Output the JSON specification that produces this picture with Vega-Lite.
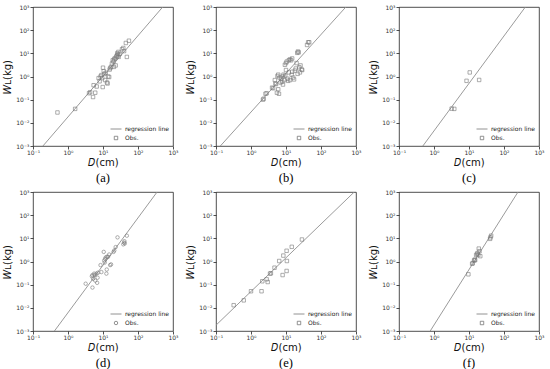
{
"$schema": "https://vega.github.io/schema/vega-lite/v6.json",
"padding": {"left": 2, "top": 3, "right": 2, "bottom": 0},
"background": "white",
"config": {
 "font": "DejaVu Sans",
 "view": {"stroke": "#222", "strokeWidth": 0.8},
 "axis": {"grid": false, "domain": false, "tickColor": "#222", "tickSize": 3, "tickWidth": 0.8, "labelFontSize": 6, "labelColor": "#333", "labelFont": "DejaVu Sans", "titleFont": "DejaVu Sans", "titleFontSize": 10, "titleFontWeight": "normal", "titleColor": "#111", "labelFlush": false, "labelOverlap": false},
 "axisX": {"labelPadding": 0, "titlePadding": 2},
 "axisY": {"labelPadding": 1, "titlePadding": 3},
 "legend": {"orient": "bottom-right", "labelFontSize": 6, "labelFont": "DejaVu Sans", "labelColor": "#222", "symbolStrokeWidth": 0.8, "rowPadding": 2, "offset": 3, "padding": 1, "labelOffset": 3},
 "title": {"font": "Liberation Serif", "fontSize": 12.5, "fontWeight": "normal", "orient": "bottom", "offset": 5, "color": "#000"}
},
"datasets": {
 "lines": [
  {"p":"a","D":0.192,"W":0.001},{"p":"a","D":508,"W":1000},
  {"p":"b","D":0.133,"W":0.001},{"p":"b","D":513,"W":1000},
  {"p":"c","D":0.48,"W":0.001},{"p":"c","D":407,"W":1000},
  {"p":"d","D":0.41,"W":0.001},{"p":"d","D":351,"W":1000},
  {"p":"e","D":0.1,"W":0.00178},{"p":"e","D":891,"W":1000},
  {"p":"f","D":0.78,"W":0.001},{"p":"f","D":251,"W":1000}
 ],
 "obs": [
  {"p":"a","s":"Obs.","D":0.5,"W":0.028},{"p":"a","s":"Obs.","D":1.6,"W":0.04},{"p":"a","s":"Obs.","D":4.0,"W":0.19},{"p":"a","s":"Obs.","D":4.3,"W":0.21},{"p":"a","s":"Obs.","D":5.2,"W":0.13},{"p":"a","s":"Obs.","D":5.4,"W":0.42},{"p":"a","s":"Obs.","D":6.0,"W":0.2},{"p":"a","s":"Obs.","D":6.6,"W":0.37},{"p":"a","s":"Obs.","D":7.5,"W":0.85},{"p":"a","s":"Obs.","D":8.0,"W":0.62},{"p":"a","s":"Obs.","D":8.5,"W":1.0},{"p":"a","s":"Obs.","D":9.0,"W":1.15},{"p":"a","s":"Obs.","D":9.5,"W":0.85},{"p":"a","s":"Obs.","D":9.8,"W":0.35},{"p":"a","s":"Obs.","D":10,"W":2.4},{"p":"a","s":"Obs.","D":10.5,"W":1.7},{"p":"a","s":"Obs.","D":11,"W":1.3},{"p":"a","s":"Obs.","D":11.5,"W":0.7},{"p":"a","s":"Obs.","D":12,"W":1.45},{"p":"a","s":"Obs.","D":13,"W":0.55},{"p":"a","s":"Obs.","D":13.5,"W":0.5},{"p":"a","s":"Obs.","D":14,"W":1.0},{"p":"a","s":"Obs.","D":15,"W":0.95},{"p":"a","s":"Obs.","D":15.5,"W":2.0},{"p":"a","s":"Obs.","D":16,"W":2.3},{"p":"a","s":"Obs.","D":17,"W":2.6},{"p":"a","s":"Obs.","D":18,"W":3.6},{"p":"a","s":"Obs.","D":19,"W":5.0},{"p":"a","s":"Obs.","D":20,"W":4.4},{"p":"a","s":"Obs.","D":20.5,"W":2.6},{"p":"a","s":"Obs.","D":21,"W":5.6},{"p":"a","s":"Obs.","D":22,"W":6.2},{"p":"a","s":"Obs.","D":23,"W":3.0},{"p":"a","s":"Obs.","D":24,"W":7.2},{"p":"a","s":"Obs.","D":25,"W":8.0},{"p":"a","s":"Obs.","D":25.5,"W":10},{"p":"a","s":"Obs.","D":27,"W":9},{"p":"a","s":"Obs.","D":27.5,"W":11.5},{"p":"a","s":"Obs.","D":28,"W":7},{"p":"a","s":"Obs.","D":30,"W":9.5},{"p":"a","s":"Obs.","D":35,"W":15},{"p":"a","s":"Obs.","D":38,"W":17},{"p":"a","s":"Obs.","D":40,"W":12.5},{"p":"a","s":"Obs.","D":45,"W":28},{"p":"a","s":"Obs.","D":48,"W":7},{"p":"a","s":"Obs.","D":55,"W":35},
  {"p":"b","s":"Obs.","D":2.2,"W":0.1},{"p":"b","s":"Obs.","D":2.3,"W":0.11},{"p":"b","s":"Obs.","D":2.6,"W":0.18},{"p":"b","s":"Obs.","D":2.8,"W":0.19},{"p":"b","s":"Obs.","D":4.0,"W":0.33},{"p":"b","s":"Obs.","D":4.3,"W":0.31},{"p":"b","s":"Obs.","D":4.8,"W":0.7},{"p":"b","s":"Obs.","D":5.0,"W":0.5},{"p":"b","s":"Obs.","D":5.2,"W":0.47},{"p":"b","s":"Obs.","D":5.5,"W":0.2},{"p":"b","s":"Obs.","D":5.7,"W":1.05},{"p":"b","s":"Obs.","D":6.0,"W":1.2},{"p":"b","s":"Obs.","D":6.0,"W":0.28},{"p":"b","s":"Obs.","D":6.3,"W":0.18},{"p":"b","s":"Obs.","D":6.5,"W":0.9},{"p":"b","s":"Obs.","D":7,"W":0.55},{"p":"b","s":"Obs.","D":7.3,"W":0.8},{"p":"b","s":"Obs.","D":7.8,"W":0.6},{"p":"b","s":"Obs.","D":8,"W":1.0},{"p":"b","s":"Obs.","D":8.2,"W":0.45},{"p":"b","s":"Obs.","D":8.5,"W":1.2},{"p":"b","s":"Obs.","D":9,"W":0.7},{"p":"b","s":"Obs.","D":9.3,"W":3.2},{"p":"b","s":"Obs.","D":9.5,"W":1.1},{"p":"b","s":"Obs.","D":10,"W":3.8},{"p":"b","s":"Obs.","D":10,"W":1.9},{"p":"b","s":"Obs.","D":10.5,"W":4.4},{"p":"b","s":"Obs.","D":11,"W":0.8},{"p":"b","s":"Obs.","D":11.5,"W":0.65},{"p":"b","s":"Obs.","D":12,"W":5},{"p":"b","s":"Obs.","D":12,"W":1.5},{"p":"b","s":"Obs.","D":13,"W":5.5},{"p":"b","s":"Obs.","D":13,"W":0.7},{"p":"b","s":"Obs.","D":14,"W":5},{"p":"b","s":"Obs.","D":14.5,"W":1.2},{"p":"b","s":"Obs.","D":15,"W":6},{"p":"b","s":"Obs.","D":15,"W":1.6},{"p":"b","s":"Obs.","D":16,"W":0.9},{"p":"b","s":"Obs.","D":17,"W":0.75},{"p":"b","s":"Obs.","D":18,"W":1.8},{"p":"b","s":"Obs.","D":19,"W":2.2},{"p":"b","s":"Obs.","D":20,"W":3.8},{"p":"b","s":"Obs.","D":21,"W":10.5},{"p":"b","s":"Obs.","D":21.5,"W":1.3},{"p":"b","s":"Obs.","D":22,"W":12},{"p":"b","s":"Obs.","D":23,"W":11},{"p":"b","s":"Obs.","D":24,"W":2.5},{"p":"b","s":"Obs.","D":25,"W":1.5},{"p":"b","s":"Obs.","D":26,"W":3},{"p":"b","s":"Obs.","D":28,"W":2},{"p":"b","s":"Obs.","D":29,"W":1.9},{"p":"b","s":"Obs.","D":40,"W":23},{"p":"b","s":"Obs.","D":43,"W":30},{"p":"b","s":"Obs.","D":46,"W":30},
  {"p":"c","s":"Obs.","D":3.2,"W":0.041},{"p":"c","s":"Obs.","D":3.8,"W":0.04},{"p":"c","s":"Obs.","D":8.5,"W":0.65},{"p":"c","s":"Obs.","D":10.5,"W":1.5},{"p":"c","s":"Obs.","D":19.5,"W":0.71},
  {"p":"d","s":"Obs.","D":3.2,"W":0.11},{"p":"d","s":"Obs.","D":5.0,"W":0.075},{"p":"d","s":"Obs.","D":4.8,"W":0.23},{"p":"d","s":"Obs.","D":5.0,"W":0.26},{"p":"d","s":"Obs.","D":5.2,"W":0.18},{"p":"d","s":"Obs.","D":5.6,"W":0.3},{"p":"d","s":"Obs.","D":5.8,"W":0.26},{"p":"d","s":"Obs.","D":6.0,"W":0.15},{"p":"d","s":"Obs.","D":6.5,"W":0.3},{"p":"d","s":"Obs.","D":7,"W":0.2},{"p":"d","s":"Obs.","D":6.8,"W":0.12},{"p":"d","s":"Obs.","D":7.2,"W":0.33},{"p":"d","s":"Obs.","D":8.5,"W":0.7},{"p":"d","s":"Obs.","D":9.0,"W":0.35},{"p":"d","s":"Obs.","D":10.5,"W":2.6},{"p":"d","s":"Obs.","D":10.8,"W":1.1},{"p":"d","s":"Obs.","D":11.2,"W":0.9},{"p":"d","s":"Obs.","D":11.5,"W":1.3},{"p":"d","s":"Obs.","D":12,"W":1.5},{"p":"d","s":"Obs.","D":12.5,"W":0.3},{"p":"d","s":"Obs.","D":12.8,"W":0.45},{"p":"d","s":"Obs.","D":13,"W":1.6},{"p":"d","s":"Obs.","D":14,"W":1.6},{"p":"d","s":"Obs.","D":15,"W":2.0},{"p":"d","s":"Obs.","D":16,"W":0.7},{"p":"d","s":"Obs.","D":17,"W":0.75},{"p":"d","s":"Obs.","D":20,"W":2.6},{"p":"d","s":"Obs.","D":21,"W":3.0},{"p":"d","s":"Obs.","D":23,"W":4.2},{"p":"d","s":"Obs.","D":26,"W":11},{"p":"d","s":"Obs.","D":38,"W":5.5},{"p":"d","s":"Obs.","D":40,"W":6.5},{"p":"d","s":"Obs.","D":41,"W":7.5},{"p":"d","s":"Obs.","D":42,"W":6},{"p":"d","s":"Obs.","D":48,"W":13},
  {"p":"e","s":"Obs.","D":0.32,"W":0.013},{"p":"e","s":"Obs.","D":0.62,"W":0.021},{"p":"e","s":"Obs.","D":1.0,"W":0.052},{"p":"e","s":"Obs.","D":2.0,"W":0.052},{"p":"e","s":"Obs.","D":2.1,"W":0.14},{"p":"e","s":"Obs.","D":2.8,"W":0.17},{"p":"e","s":"Obs.","D":3.0,"W":0.13},{"p":"e","s":"Obs.","D":3.5,"W":0.3},{"p":"e","s":"Obs.","D":3.7,"W":0.31},{"p":"e","s":"Obs.","D":4.7,"W":0.54},{"p":"e","s":"Obs.","D":6.4,"W":1.05},{"p":"e","s":"Obs.","D":8.4,"W":1.8},{"p":"e","s":"Obs.","D":8.0,"W":0.26},{"p":"e","s":"Obs.","D":10.4,"W":2.9},{"p":"e","s":"Obs.","D":10.4,"W":0.39},{"p":"e","s":"Obs.","D":10.6,"W":1.05},{"p":"e","s":"Obs.","D":14.6,"W":4.3},{"p":"e","s":"Obs.","D":28.5,"W":8.9},
  {"p":"f","s":"Obs.","D":9.6,"W":0.28},{"p":"f","s":"Obs.","D":12.3,"W":0.8},{"p":"f","s":"Obs.","D":12.8,"W":0.85},{"p":"f","s":"Obs.","D":14,"W":1.1},{"p":"f","s":"Obs.","D":14.5,"W":1.2},{"p":"f","s":"Obs.","D":15,"W":1.15},{"p":"f","s":"Obs.","D":16,"W":1.9},{"p":"f","s":"Obs.","D":17,"W":2.1},{"p":"f","s":"Obs.","D":17.5,"W":2.3},{"p":"f","s":"Obs.","D":19,"W":3.6},{"p":"f","s":"Obs.","D":18.5,"W":1.9},{"p":"f","s":"Obs.","D":20,"W":2.8},{"p":"f","s":"Obs.","D":21,"W":1.7},{"p":"f","s":"Obs.","D":41,"W":11},{"p":"f","s":"Obs.","D":43,"W":13},{"p":"f","s":"Obs.","D":40,"W":9.5}
 ]
},
"spacing": 3,
"resolve": {"scale": {"shape": "independent", "size": "independent"}, "legend": {"shape": "independent", "size": "independent"}},
"vconcat": [
 {"spacing": 6,
  "resolve": {"scale": {"shape": "independent", "size": "independent"}, "legend": {"shape": "independent", "size": "independent"}},
  "hconcat": [
 {"width": 140, "height": 139, "title": {"text": "(a)"},
  "encoding": {"x": {"field": "D", "type": "quantitative", "scale": {"type": "log", "domain": [0.1, 1000]}, "axis": {"title": "𝐷(cm)", "values": [0.1, 1, 10, 100, 1000], "labelExpr": "datum.value < 0.005 ? '10⁻³' : datum.value < 0.05 ? '10⁻²' : datum.value < 0.5 ? '10⁻¹' : datum.value < 5 ? '10⁰' : datum.value < 50 ? '10¹' : datum.value < 500 ? '10²' : '10³'"}},
   "y": {"field": "W", "type": "quantitative", "scale": {"type": "log", "domain": [0.001, 1000]}, "axis": {"title": "𝑊ʟ(kg)", "values": [0.001, 0.01, 0.1, 1, 10, 100, 1000], "labelExpr": "datum.value < 0.005 ? '10⁻³' : datum.value < 0.05 ? '10⁻²' : datum.value < 0.5 ? '10⁻¹' : datum.value < 5 ? '10⁰' : datum.value < 50 ? '10¹' : datum.value < 500 ? '10²' : '10³'"}}},
  "layer": [
   {"data": {"name": "lines"}, "transform": [{"filter": "datum.p === 'a'"}], "mark": {"type": "line", "clip": true, "color": "#8f8f8f", "strokeWidth": 0.9}, "encoding": {}},
   {"data": {"name": "obs"}, "transform": [{"filter": "datum.p === 'a'"}], "mark": {"type": "point", "filled": false, "color": "#777", "strokeWidth": 0.6, "opacity": 1},
    "encoding": {"shape": {"field": "s", "type": "nominal", "scale": {"domain": ["regression line", "Obs."], "range": ["stroke", "square"]}, "legend": {"title": null}},
     "size": {"field": "s", "type": "nominal", "scale": {"domain": ["regression line", "Obs."], "range": [121, 12]}, "legend": {"title": null}}}}
  ]},
 {"width": 140, "height": 139, "title": {"text": "(b)"},
  "encoding": {"x": {"field": "D", "type": "quantitative", "scale": {"type": "log", "domain": [0.1, 1000]}, "axis": {"title": "𝐷(cm)", "values": [0.1, 1, 10, 100, 1000], "labelExpr": "datum.value < 0.005 ? '10⁻³' : datum.value < 0.05 ? '10⁻²' : datum.value < 0.5 ? '10⁻¹' : datum.value < 5 ? '10⁰' : datum.value < 50 ? '10¹' : datum.value < 500 ? '10²' : '10³'"}},
   "y": {"field": "W", "type": "quantitative", "scale": {"type": "log", "domain": [0.001, 1000]}, "axis": {"title": "𝑊ʟ(kg)", "values": [0.001, 0.01, 0.1, 1, 10, 100, 1000], "labelExpr": "datum.value < 0.005 ? '10⁻³' : datum.value < 0.05 ? '10⁻²' : datum.value < 0.5 ? '10⁻¹' : datum.value < 5 ? '10⁰' : datum.value < 50 ? '10¹' : datum.value < 500 ? '10²' : '10³'"}}},
  "layer": [
   {"data": {"name": "lines"}, "transform": [{"filter": "datum.p === 'b'"}], "mark": {"type": "line", "clip": true, "color": "#8f8f8f", "strokeWidth": 0.9}, "encoding": {}},
   {"data": {"name": "obs"}, "transform": [{"filter": "datum.p === 'b'"}], "mark": {"type": "point", "filled": false, "color": "#777", "strokeWidth": 0.6, "opacity": 1},
    "encoding": {"shape": {"field": "s", "type": "nominal", "scale": {"domain": ["regression line", "Obs."], "range": ["stroke", "square"]}, "legend": {"title": null}},
     "size": {"field": "s", "type": "nominal", "scale": {"domain": ["regression line", "Obs."], "range": [121, 12]}, "legend": {"title": null}}}}
  ]},
 {"width": 140, "height": 139, "title": {"text": "(c)"},
  "encoding": {"x": {"field": "D", "type": "quantitative", "scale": {"type": "log", "domain": [0.1, 1000]}, "axis": {"title": "𝐷(cm)", "values": [0.1, 1, 10, 100, 1000], "labelExpr": "datum.value < 0.005 ? '10⁻³' : datum.value < 0.05 ? '10⁻²' : datum.value < 0.5 ? '10⁻¹' : datum.value < 5 ? '10⁰' : datum.value < 50 ? '10¹' : datum.value < 500 ? '10²' : '10³'"}},
   "y": {"field": "W", "type": "quantitative", "scale": {"type": "log", "domain": [0.001, 1000]}, "axis": {"title": "𝑊ʟ(kg)", "values": [0.001, 0.01, 0.1, 1, 10, 100, 1000], "labelExpr": "datum.value < 0.005 ? '10⁻³' : datum.value < 0.05 ? '10⁻²' : datum.value < 0.5 ? '10⁻¹' : datum.value < 5 ? '10⁰' : datum.value < 50 ? '10¹' : datum.value < 500 ? '10²' : '10³'"}}},
  "layer": [
   {"data": {"name": "lines"}, "transform": [{"filter": "datum.p === 'c'"}], "mark": {"type": "line", "clip": true, "color": "#8f8f8f", "strokeWidth": 0.9}, "encoding": {}},
   {"data": {"name": "obs"}, "transform": [{"filter": "datum.p === 'c'"}], "mark": {"type": "point", "filled": false, "color": "#777", "strokeWidth": 0.6, "opacity": 1},
    "encoding": {"shape": {"field": "s", "type": "nominal", "scale": {"domain": ["regression line", "Obs."], "range": ["stroke", "square"]}, "legend": {"title": null}},
     "size": {"field": "s", "type": "nominal", "scale": {"domain": ["regression line", "Obs."], "range": [121, 12]}, "legend": {"title": null}}}}
  ]}
 ]},
 {"spacing": 6,
  "resolve": {"scale": {"shape": "independent", "size": "independent"}, "legend": {"shape": "independent", "size": "independent"}},
  "hconcat": [
 {"width": 140, "height": 139, "title": {"text": "(d)"},
  "encoding": {"x": {"field": "D", "type": "quantitative", "scale": {"type": "log", "domain": [0.1, 1000]}, "axis": {"title": "𝐷(cm)", "values": [0.1, 1, 10, 100, 1000], "labelExpr": "datum.value < 0.005 ? '10⁻³' : datum.value < 0.05 ? '10⁻²' : datum.value < 0.5 ? '10⁻¹' : datum.value < 5 ? '10⁰' : datum.value < 50 ? '10¹' : datum.value < 500 ? '10²' : '10³'"}},
   "y": {"field": "W", "type": "quantitative", "scale": {"type": "log", "domain": [0.001, 1000]}, "axis": {"title": "𝑊ʟ(kg)", "values": [0.001, 0.01, 0.1, 1, 10, 100, 1000], "labelExpr": "datum.value < 0.005 ? '10⁻³' : datum.value < 0.05 ? '10⁻²' : datum.value < 0.5 ? '10⁻¹' : datum.value < 5 ? '10⁰' : datum.value < 50 ? '10¹' : datum.value < 500 ? '10²' : '10³'"}}},
  "layer": [
   {"data": {"name": "lines"}, "transform": [{"filter": "datum.p === 'd'"}], "mark": {"type": "line", "clip": true, "color": "#8f8f8f", "strokeWidth": 0.9}, "encoding": {}},
   {"data": {"name": "obs"}, "transform": [{"filter": "datum.p === 'd'"}], "mark": {"type": "point", "filled": false, "color": "#777", "strokeWidth": 0.6, "opacity": 1},
    "encoding": {"shape": {"field": "s", "type": "nominal", "scale": {"domain": ["regression line", "Obs."], "range": ["stroke", "circle"]}, "legend": {"title": null}},
     "size": {"field": "s", "type": "nominal", "scale": {"domain": ["regression line", "Obs."], "range": [121, 12]}, "legend": {"title": null}}}}
  ]},
 {"width": 140, "height": 139, "title": {"text": "(e)"},
  "encoding": {"x": {"field": "D", "type": "quantitative", "scale": {"type": "log", "domain": [0.1, 1000]}, "axis": {"title": "𝐷(cm)", "values": [0.1, 1, 10, 100, 1000], "labelExpr": "datum.value < 0.005 ? '10⁻³' : datum.value < 0.05 ? '10⁻²' : datum.value < 0.5 ? '10⁻¹' : datum.value < 5 ? '10⁰' : datum.value < 50 ? '10¹' : datum.value < 500 ? '10²' : '10³'"}},
   "y": {"field": "W", "type": "quantitative", "scale": {"type": "log", "domain": [0.001, 1000]}, "axis": {"title": "𝑊ʟ(kg)", "values": [0.001, 0.01, 0.1, 1, 10, 100, 1000], "labelExpr": "datum.value < 0.005 ? '10⁻³' : datum.value < 0.05 ? '10⁻²' : datum.value < 0.5 ? '10⁻¹' : datum.value < 5 ? '10⁰' : datum.value < 50 ? '10¹' : datum.value < 500 ? '10²' : '10³'"}}},
  "layer": [
   {"data": {"name": "lines"}, "transform": [{"filter": "datum.p === 'e'"}], "mark": {"type": "line", "clip": true, "color": "#8f8f8f", "strokeWidth": 0.9}, "encoding": {}},
   {"data": {"name": "obs"}, "transform": [{"filter": "datum.p === 'e'"}], "mark": {"type": "point", "filled": false, "color": "#777", "strokeWidth": 0.6, "opacity": 1},
    "encoding": {"shape": {"field": "s", "type": "nominal", "scale": {"domain": ["regression line", "Obs."], "range": ["stroke", "square"]}, "legend": {"title": null}},
     "size": {"field": "s", "type": "nominal", "scale": {"domain": ["regression line", "Obs."], "range": [121, 12]}, "legend": {"title": null}}}}
  ]},
 {"width": 140, "height": 139, "title": {"text": "(f)"},
  "encoding": {"x": {"field": "D", "type": "quantitative", "scale": {"type": "log", "domain": [0.1, 1000]}, "axis": {"title": "𝐷(cm)", "values": [0.1, 1, 10, 100, 1000], "labelExpr": "datum.value < 0.005 ? '10⁻³' : datum.value < 0.05 ? '10⁻²' : datum.value < 0.5 ? '10⁻¹' : datum.value < 5 ? '10⁰' : datum.value < 50 ? '10¹' : datum.value < 500 ? '10²' : '10³'"}},
   "y": {"field": "W", "type": "quantitative", "scale": {"type": "log", "domain": [0.001, 1000]}, "axis": {"title": "𝑊ʟ(kg)", "values": [0.001, 0.01, 0.1, 1, 10, 100, 1000], "labelExpr": "datum.value < 0.005 ? '10⁻³' : datum.value < 0.05 ? '10⁻²' : datum.value < 0.5 ? '10⁻¹' : datum.value < 5 ? '10⁰' : datum.value < 50 ? '10¹' : datum.value < 500 ? '10²' : '10³'"}}},
  "layer": [
   {"data": {"name": "lines"}, "transform": [{"filter": "datum.p === 'f'"}], "mark": {"type": "line", "clip": true, "color": "#8f8f8f", "strokeWidth": 0.9}, "encoding": {}},
   {"data": {"name": "obs"}, "transform": [{"filter": "datum.p === 'f'"}], "mark": {"type": "point", "filled": false, "color": "#777", "strokeWidth": 0.6, "opacity": 1},
    "encoding": {"shape": {"field": "s", "type": "nominal", "scale": {"domain": ["regression line", "Obs."], "range": ["stroke", "square"]}, "legend": {"title": null}},
     "size": {"field": "s", "type": "nominal", "scale": {"domain": ["regression line", "Obs."], "range": [121, 12]}, "legend": {"title": null}}}}
  ]}
 ]}
]
}
